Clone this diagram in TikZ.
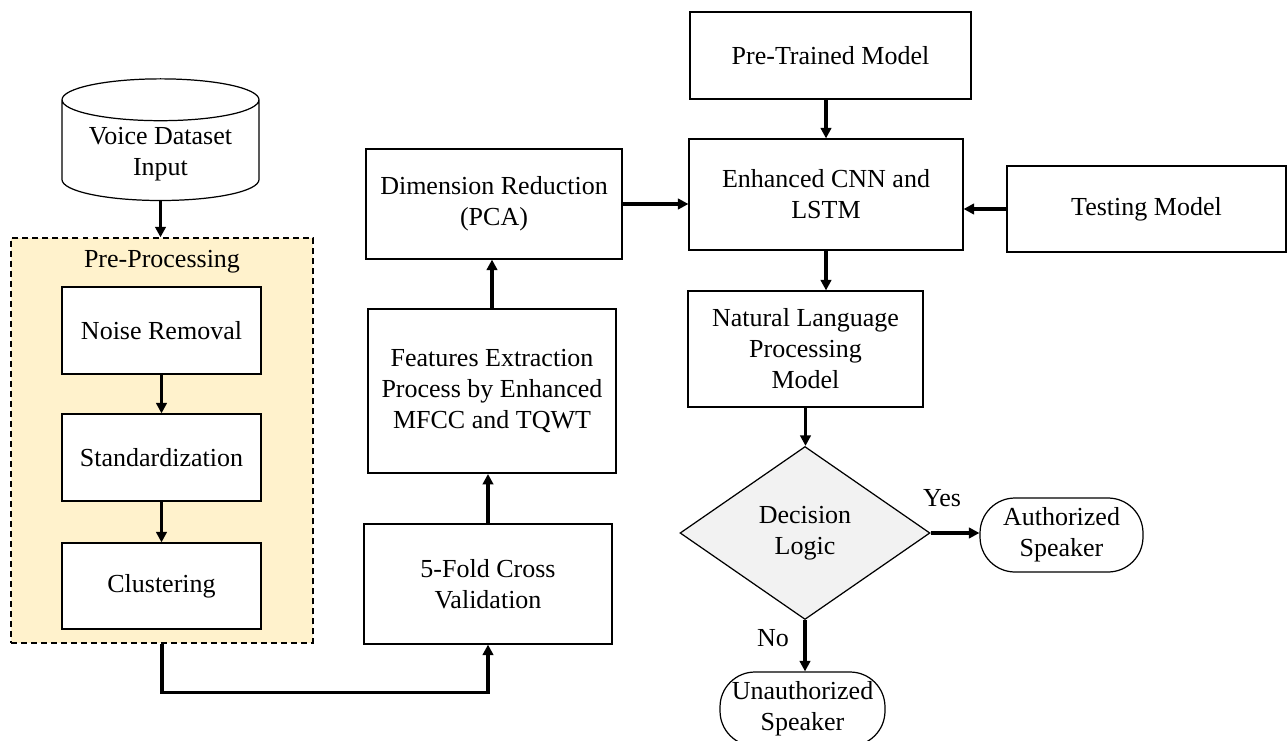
\documentclass[tikz,border=0pt]{standalone}
\usepackage{fontspec}
\setmainfont{Liberation Serif}
\usetikzlibrary{shapes.geometric,arrows.meta,positioning}
\definecolor{prepfill}{HTML}{FFF2CC}
\definecolor{decfill}{HTML}{F2F2F2}
\tikzset{
	txt/.style={font=\fontsize{14.8}{17.6}\selectfont, align=center},
	box/.style={txt, draw, line width=0.7pt, fill=white, inner sep=0pt},
	decision/.style={txt, diamond, draw, line width=0.7pt, fill=decfill, inner sep=0pt, aspect=1.445},
	terminal/.style={box, rounded corners=0.7cm},
	arrow/.style={line width=1.9pt, -{Triangle[length=6pt,width=6pt]}},
}
\begin{document}
\begin{tikzpicture}[x=0.02cm, y=-0.02cm]
	\useasboundingbox[fill=white] (0,0) rectangle (1287,740);
	% Eingabe
	\node[txt, cylinder, shape border rotate=90, draw, line width=0.7pt, aspect=0.27,
		minimum width=3.94cm, minimum height=2.16cm] (voice) at (160.5,154)
		{Voice Dataset\\Input};
	% Vorverarbeitung
	\node[draw, dash pattern=on 3.4pt off 2.3pt, line width=0.85pt, fill=prepfill,
		minimum width=6.04cm, minimum height=8.1cm] (prep) at (162,440.5) {};
	\node[txt] (preplabel) at (162,262) {Pre-Processing};
	\node[box, minimum width=3.98cm, minimum height=1.74cm] (noise) at (161.5,330.5) {Noise Removal};
	\node[box, minimum width=3.98cm, minimum height=1.74cm] (stand) at (161.5,457.5) {Standardization};
	\node[box, minimum width=3.98cm, minimum height=1.72cm] (clust) at (161.5,586) {Clustering};
	% Merkmale
	\node[box, minimum width=4.96cm, minimum height=2.4cm] (fold) at (488,584) {5-Fold Cross\\Validation};
	\node[box, line width=1.1pt, minimum width=4.96cm, minimum height=3.28cm] (feat) at (492,391)
		{Features Extraction\\Process by Enhanced\\MFCC and TQWT};
	\node[box, minimum width=5.12cm, minimum height=2.2cm] (dim) at (494,204) {Dimension Reduction\\(PCA)};
	% Modell
	\node[box, minimum width=5.62cm, minimum height=1.74cm] (pre) at (830.5,55.5) {Pre-Trained Model};
	\node[box, minimum width=5.48cm, minimum height=2.22cm] (cnn) at (826,194.5) {Enhanced CNN and\\LSTM};
	\node[box, minimum width=5.58cm, minimum height=1.72cm] (test) at (1146.5,209) {Testing Model};
	\node[box, minimum width=4.7cm, minimum height=2.32cm] (nlp) at (805.5,349) {Natural Language\\Processing\\Model};
	% Entscheidung
	\node[decision, minimum width=5cm, minimum height=3.46cm] (dec) at (805,533) {Decision\\Logic};
	\node[terminal, minimum width=3.26cm, minimum height=1.48cm] (auth) at (1061.5,535) {Authorized\\Speaker};
	\node[terminal, minimum width=3.3cm, minimum height=1.48cm] (unauth) at (802.5,709) {Unauthorized\\Speaker};
	\node[txt] (yes) at (942,498) {Yes};
	\node[txt] (no) at (773,638) {No};
	% Pfeile
	\draw[arrow] (voice.south) -- (voice.south |- prep.north);
	\draw[arrow] (noise) -- (stand);
	\draw[arrow] (stand) -- (clust);
	\draw[arrow] (prep.south) -- ++(0,49) -| (fold.south);
	\draw[arrow] (fold.north) -- (fold.north |- feat.south);
	\draw[arrow] (feat.north) -- (feat.north |- dim.south);
	\draw[arrow] (dim.east) -- (dim.east -| cnn.west);
	\draw[arrow] (cnn.north |- pre.south) -- (cnn.north);
	\draw[arrow] (test.west) -- (test.west -| cnn.east);
	\draw[arrow] (cnn.south) -- (cnn.south |- nlp.north);
	\draw[arrow] (nlp.south) -- (nlp.south |- dec.north);
	\draw[arrow] (dec.east) -- (dec.east -| auth.west);
	\draw[arrow] (dec.south) -- (dec.south |- unauth.north);
\end{tikzpicture}
\end{document}
